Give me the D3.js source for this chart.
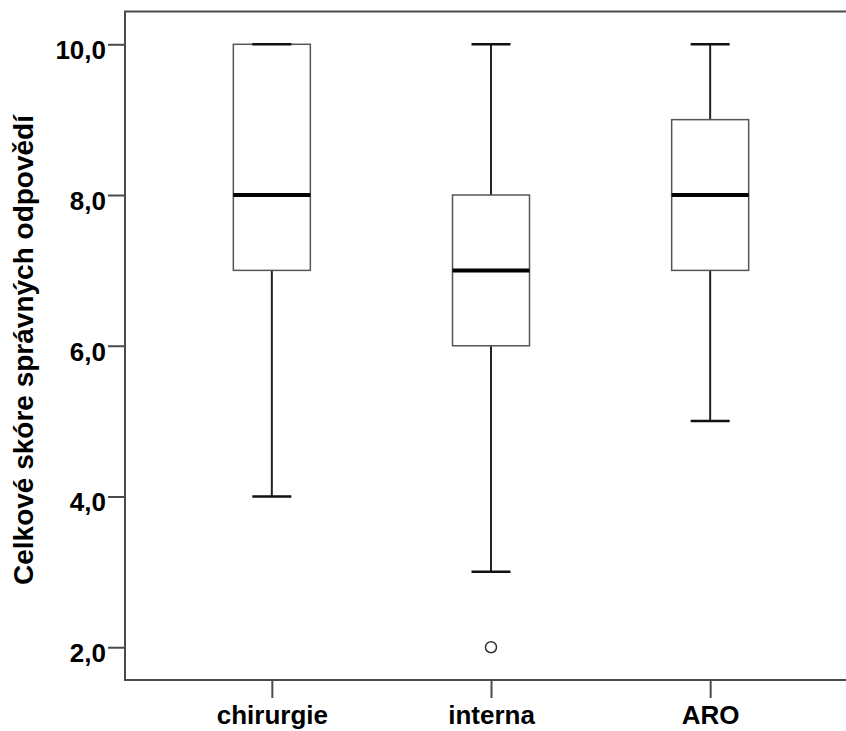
<!DOCTYPE html>
<html>
<head>
<meta charset="utf-8">
<script src="https://cdn.jsdelivr.net/npm/d3@7"></script>
<style>
  body { margin: 0; background: #fff; }
  text { font-family: "Liberation Sans", Arial, sans-serif; font-weight: bold; fill: #000; }
</style>
</head>
<body>
<div id="chart"></div>
<script>
// data
const categories = ["chirurgie", "interna", "ARO"];
const whiskerLow = [4, 3, 5];
const q1 = [7, 6, 7];
const medians = [8, 7, 8];
const q3 = [10, 8, 9];
const whiskerHigh = [10, 10, 10];
const outliers = [[], [2], []];
const yTicks = [2, 4, 6, 8, 10];
const yLabel = "Celkové skóre správných odpovědí";

const width = 846, height = 731;
const plotLeft = 125, plotTop = 11.5, plotBottom = 680;

const svg = d3.select("#chart").append("svg")
    .attr("width", width)
    .attr("height", height);

const x = d3.scalePoint()
    .domain(categories)
    .range([plotLeft, 857])
    .padding(0.67);

const y = d3.scaleLinear()
    .domain([1.565, 10.435])
    .range([plotBottom, plotTop]);

const boxW = 77, capW = 39;
const comma = d3.formatLocale({ decimal: ",", thousands: " ", grouping: [3], currency: ["", ""] }).format(".1f");

// frame (right side runs off the picture)
svg.append("rect")
    .attr("x", plotLeft).attr("y", plotTop)
    .attr("width", 900).attr("height", plotBottom - plotTop)
    .attr("fill", "none")
    .attr("stroke", "#4a4a4a")
    .attr("stroke-width", 2);

// y axis
const yAxis = svg.append("g")
    .attr("transform", `translate(${plotLeft},0)`)
    .call(d3.axisLeft(y).tickValues(yTicks).tickFormat(comma).tickSize(17).tickPadding(2));
yAxis.select(".domain").remove();
yAxis.selectAll(".tick line").attr("stroke", "#4a4a4a").attr("stroke-width", 2);
yAxis.selectAll(".tick text").style("font-size", "26px").attr("dy", "0.55em");

// x axis
const xAxis = svg.append("g")
    .attr("transform", `translate(0,${plotBottom})`)
    .call(d3.axisBottom(x).tickSize(18).tickPadding(8));
xAxis.select(".domain").remove();
xAxis.selectAll(".tick line").attr("stroke", "#4a4a4a").attr("stroke-width", 2);
xAxis.selectAll(".tick text").style("font-size", "26px").attr("dy", "0.71em");

// y label
svg.append("text")
    .attr("transform", "rotate(-90)")
    .attr("x", -350)
    .attr("y", 33)
    .attr("text-anchor", "middle")
    .style("font-size", "28px")
    .text(yLabel);

const g = svg.append("g");

categories.forEach((c, i) => {
    const cx = x(c);
    // whiskers
    g.append("line")
        .attr("x1", cx).attr("x2", cx)
        .attr("y1", y(q3[i])).attr("y2", y(whiskerHigh[i]))
        .attr("stroke", "#222").attr("stroke-width", 2);
    g.append("line")
        .attr("x1", cx).attr("x2", cx)
        .attr("y1", y(q1[i])).attr("y2", y(whiskerLow[i]))
        .attr("stroke", "#222").attr("stroke-width", 2);
    // box
    g.append("rect")
        .attr("x", cx - boxW / 2)
        .attr("y", y(q3[i]))
        .attr("width", boxW)
        .attr("height", y(q1[i]) - y(q3[i]))
        .attr("fill", "#fff")
        .attr("stroke", "#555")
        .attr("stroke-width", 1.5);
    // caps
    [whiskerLow[i], whiskerHigh[i]].forEach(v => {
        g.append("line")
            .attr("x1", cx - capW / 2).attr("x2", cx + capW / 2)
            .attr("y1", y(v)).attr("y2", y(v))
            .attr("stroke", "#111").attr("stroke-width", 2.5);
    });
    // median
    g.append("line")
        .attr("x1", cx - boxW / 2).attr("x2", cx + boxW / 2)
        .attr("y1", y(medians[i])).attr("y2", y(medians[i]))
        .attr("stroke", "#000").attr("stroke-width", 4);
    // outliers
    outliers[i].forEach(v => {
        g.append("circle")
            .attr("cx", cx).attr("cy", y(v))
            .attr("r", 5.5)
            .attr("fill", "none")
            .attr("stroke", "#333")
            .attr("stroke-width", 1.5);
    });
});
</script>
</body>
</html>
